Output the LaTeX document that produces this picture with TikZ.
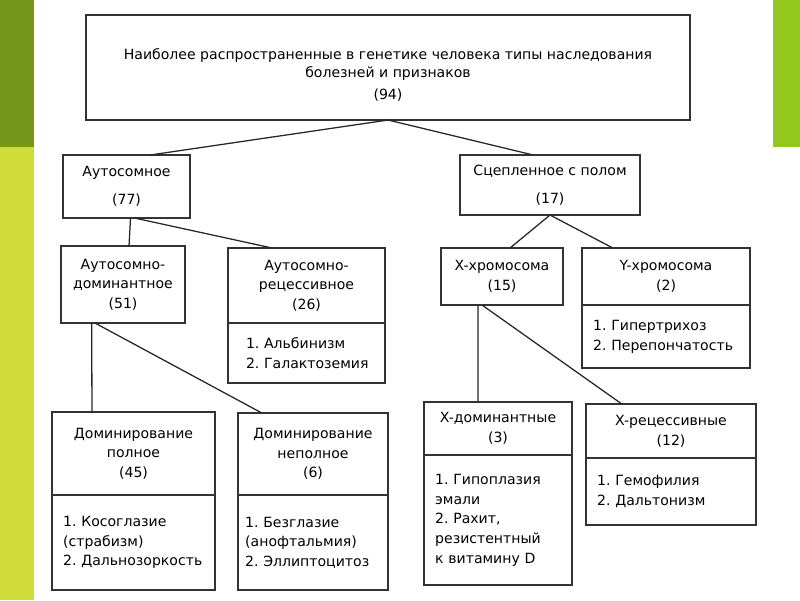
\documentclass[tikz,border=0pt]{standalone}
\usepackage{fontspec}
\setmainfont{DejaVu Sans}
\usetikzlibrary{positioning}
\definecolor{leafdark}{HTML}{76981A}
\definecolor{leaflight}{HTML}{CFDC3A}
\definecolor{leafbright}{HTML}{92C81E}
\definecolor{frame}{HTML}{333333}

\begin{document}
\begin{tikzpicture}[x=0.025cm, y=-0.025cm,
    every node/.style={font=\fontsize{10}{14}\selectfont},
    hdr/.style={draw=frame, line width=1.2pt, anchor=north west, align=center, inner sep=0pt, outer sep=0pt},
    lst/.style={draw=frame, line width=1.2pt, align=left, inner xsep=0.28cm, inner ysep=0pt, outer sep=0pt},
    link/.style={draw=black!85, line width=0.9pt}]
    \useasboundingbox (0,0) rectangle (800,600);
    % side bars
    \fill[leafdark] (0,0) rectangle (34,147);
    \fill[leaflight] (0,147) rectangle (34,600);
    \fill[leafbright] (773,0) rectangle (800,147);

    % top level
    \node[hdr, minimum width=15.1cm, minimum height=2.625cm] (top) at (86,15) {};
    \node[align=center, font=\fontsize{10}{13}\selectfont] (toptext) at (388,75)
        {Наиболее распространенные в генетике человека типы наследования\\болезней и признаков\\[2.6pt](94)};

    % second level
    \node[hdr, minimum width=3.175cm, minimum height=1.575cm] (auto) at (63,155) {Аутосомное\\[6pt](77)};
    \node[hdr, minimum width=4.5cm, minimum height=1.5cm] (sex) at (460,155) {Сцепленное с полом\\[6pt](17)};

    % third level
    \node[hdr, minimum width=3.1cm, minimum height=1.925cm] (autodom) at (61,246) {Аутосомно-\\доминантное\\(51)};
    \node[hdr, minimum width=3.925cm, minimum height=1.875cm] (autorec) at (228,248) {Аутосомно-\\рецессивное\\(26)};
    \node[lst, inner xsep=0.45cm, text width=3.025cm, minimum height=1.5cm, below=0pt of autorec] (autoreclist)
        {1.~Альбинизм\\2.~Галактоземия};
    \node[hdr, minimum width=3.05cm, minimum height=1.425cm] (xchr) at (441,248) {X-хромосома\\(15)};
    \node[hdr, minimum width=4.2cm, minimum height=1.425cm] (ychr) at (582,248) {Y-хромосома\\(2)};
    \node[lst, text width=3.64cm, minimum height=1.575cm, below=0pt of ychr] (ychrlist)
        {1.~Гипертрихоз\\2.~Перепончатость};

    % fourth level
    \node[hdr, minimum width=4.075cm, minimum height=2.075cm] (full) at (52,412) {Доминирование\\полное\\(45)};
    \node[lst, text width=3.515cm, minimum height=2.375cm, below=0pt of full] (fulllist)
        {1.~Косоглазие\\(страбизм)\\2.~Дальнозоркость};
    \node[hdr, minimum width=3.75cm, minimum height=2.05cm] (partial) at (238,413) {Доминирование\\неполное\\(6)};
    \node[lst, inner xsep=0.18cm, text width=3.39cm, minimum height=2.375cm, below=0pt of partial] (partiallist)
        {1.~Безглазие\\(анофтальмия)\\2.~Эллиптоцитоз};
    \node[hdr, minimum width=3.7cm, minimum height=1.325cm] (xdom) at (424,402) {X-доминантные\\(3)};
    \node[lst, text width=3.14cm, minimum height=3.25cm, below=0pt of xdom] (xdomlist)
        {1.~Гипоплазия\\эмали\\2.~Рахит,\\резистентный\\к~витамину~D};
    \node[hdr, minimum width=4.25cm, minimum height=1.35cm] (xrec) at (586,404) {X-рецессивные\\(12)};
    \node[lst, text width=3.69cm, minimum height=1.675cm, below=0pt of xrec] (xreclist)
        {1.~Гемофилия\\2.~Дальтонизм};

    % connectors
    \draw[link] (top.south) -- ([xshift=0.59cm]auto.north);
    \draw[link] (top.south) -- ([xshift=-0.42cm]sex.north);
    \draw[link] ([xshift=0.1cm]auto.south) -- ([xshift=0.15cm]autodom.north);
    \draw[link] ([xshift=0.2cm]auto.south) -- ([xshift=-0.86cm]autorec.north);
    \draw[link] (sex.south) -- ([xshift=0.2cm]xchr.north);
    \draw[link] (sex.south) -- ([xshift=-1.33cm]ychr.north);
    \draw[link] ([xshift=-0.78cm]autodom.south) -- ([xshift=-1.04cm]full.north);
    \draw[link] ([xshift=-0.7cm]autodom.south) -- ([xshift=-1.28cm]partial.north);
    \draw[link] ([xshift=-0.6cm]xchr.south) -- ([xshift=-0.5cm]xdom.north);
    \draw[link] ([xshift=-0.5cm]xchr.south) -- ([xshift=-1.23cm]xrec.north);
\end{tikzpicture}
\end{document}
